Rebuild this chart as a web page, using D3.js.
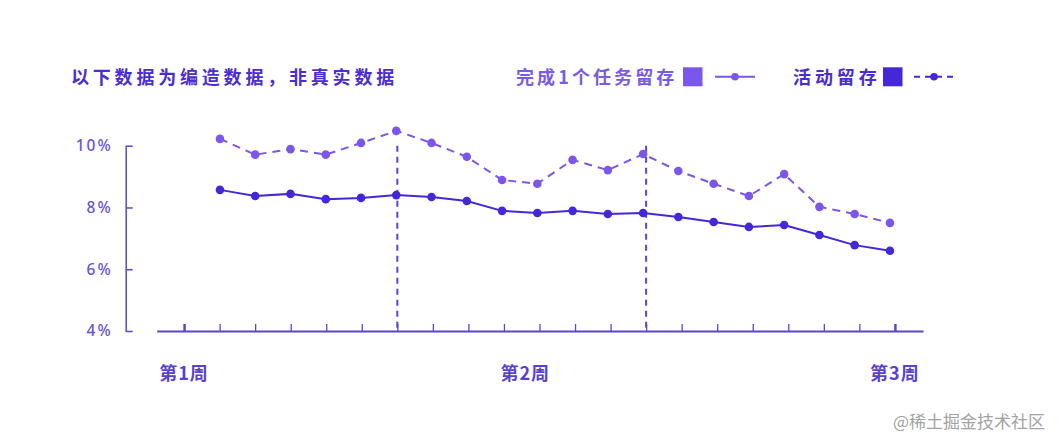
<!DOCTYPE html>
<html>
<head>
<meta charset="utf-8">
<script src="https://cdn.jsdelivr.net/npm/d3@7"></script>
<style>
  body { margin: 0; background: #fff; }
  text { font-family: "Noto Sans CJK SC", "Noto Sans", sans-serif; }
</style>
</head>
<body>
<div id="chart"></div>
<script>
  // Chart data
  var title = "以下数据为编造数据，非真实数据";
  var seriesNames = ["完成1个任务留存", "活动留存"];
  var taskValues = [10.22, 9.71, 9.89, 9.71, 10.09, 10.48, 10.09, 9.64, 8.89, 8.77,
                    9.54, 9.21, 9.73, 9.18, 8.77, 8.37, 9.08, 8.02, 7.79, 7.50];
  var activityValues = [8.57, 8.37, 8.44, 8.27, 8.31, 8.40, 8.34, 8.21, 7.89, 7.82,
                        7.89, 7.79, 7.82, 7.69, 7.53, 7.37, 7.43, 7.11, 6.78, 6.60];
  var yTicks = [4, 6, 8, 10];
  var weekLabels = ["第1周", "第2周", "第3周"];
  var weekTickIndex = [0, 9.6, 20];   // position on the day ticks
  var markerTicks = [6, 13];          // dashed vertical markers
  var watermark = "@稀土掘金技术社区";

  var width = 1061, height = 447;
  var lightColor = "#7b56ea", darkColor = "#4527d8";
  var axisColor = "#5a47c6";

  var svg = d3.select("#chart").append("svg")
              .attr("width", width)
              .attr("height", height);

  // Scales
  var xTick = d3.scaleLinear().domain([-0.77, 20.79]).range([156.7, 923]);
  var xPoint = d3.scaleLinear().domain([0, 19]).range([xTick(1.01), xTick(19.86)]);
  var yScale = d3.scaleLinear().domain([4, 10]).range([331, 145.7]);

  // X axis (ticks pointing up)
  var xAxis = d3.axisBottom(xTick)
                .tickValues(d3.range(21))
                .tickSizeInner(-7)
                .tickSizeOuter(0)
                .tickFormat("");
  var gx = svg.append("g")
              .attr("transform", "translate(0," + yScale(4) + ")")
              .call(xAxis);
  gx.select(".domain").attr("stroke", axisColor).attr("stroke-width", 2);
  gx.selectAll(".tick line")
    .attr("stroke", axisColor)
    .attr("stroke-width", function(d) { return (d === 0 || d === 20) ? 2.5 : 1.3; });

  // Week labels
  svg.selectAll("text.week")
     .data(weekLabels)
     .enter()
     .append("text")
     .attr("class", "week")
     .attr("x", function(d, i) { return xTick(weekTickIndex[i]); })
     .attr("y", 380)
     .attr("text-anchor", "middle")
     .attr("fill", "#5a3fd3")
     .attr("font-size", 18)
     .attr("font-weight", "bold")
     .attr("letter-spacing", 1)
     .text(function(d) { return d; });

  // Y axis (ticks pointing right)
  var yAxis = d3.axisLeft(yScale)
                .tickValues(yTicks)
                .tickSizeInner(-7)
                .tickSizeOuter(0)
                .tickPadding(13)
                .tickFormat(function(d) { return d + "%"; });
  var gy = svg.append("g")
              .attr("transform", "translate(125.7,0)")
              .call(yAxis);
  gy.select(".domain").attr("stroke", axisColor).attr("stroke-width", 1.5);
  gy.selectAll(".tick line").attr("stroke", axisColor).attr("stroke-width", 1.5);
  gy.selectAll(".tick text")
    .attr("fill", "#6a52d6")
    .attr("font-size", 15.5)
    .attr("font-weight", 500)
    .attr("letter-spacing", 2)
    .style("font-family", "'Noto Sans', sans-serif");

  // Dashed vertical markers
  svg.selectAll("line.marker")
     .data(markerTicks)
     .enter()
     .append("line")
     .attr("class", "marker")
     .attr("x1", function(d) { return xTick(d); })
     .attr("x2", function(d) { return xTick(d); })
     .attr("y1", yScale(10))
     .attr("y2", yScale(4))
     .attr("stroke", "#5b44d2")
     .attr("stroke-width", 2)
     .attr("stroke-dasharray", "6,5");

  // Lines and points
  var line = d3.line()
               .x(function(d, i) { return xPoint(i); })
               .y(function(d) { return yScale(d); });

  var series = [
    { values: taskValues, color: lightColor, dash: "8,6" },
    { values: activityValues, color: darkColor, dash: null }
  ];

  series.forEach(function(s) {
    svg.append("path")
       .datum(s.values)
       .attr("d", line)
       .attr("fill", "none")
       .attr("stroke", s.color)
       .attr("stroke-width", 2)
       .attr("stroke-dasharray", s.dash);

    svg.append("g")
       .selectAll("circle")
       .data(s.values)
       .enter()
       .append("circle")
       .attr("cx", function(d, i) { return xPoint(i); })
       .attr("cy", function(d) { return yScale(d); })
       .attr("r", 4.3)
       .attr("fill", s.color);
  });

  // Title
  svg.append("text")
     .attr("x", 71)
     .attr("y", 83.5)
     .attr("fill", "#4b2ecf")
     .attr("font-size", 18)
     .attr("font-weight", "bold")
     .attr("letter-spacing", 3.8)
     .text(title);

  // Legend
  var legendItems = [
    { name: seriesNames[0], color: lightColor, textColor: "#7a5be6", tx: 516, sx: 683, lx: 715, dash: null },
    { name: seriesNames[1], color: darkColor, textColor: "#4a2dd0", tx: 793, sx: 883, lx: 914, dash: "6,5" }
  ];
  var legend = svg.append("g").selectAll("g")
                  .data(legendItems)
                  .enter()
                  .append("g");

  legend.append("text")
        .attr("x", function(d) { return d.tx; })
        .attr("y", 83.5)
        .attr("fill", function(d) { return d.textColor; })
        .attr("font-size", 18)
        .attr("font-weight", "bold")
        .attr("letter-spacing", function(d, i) { return i === 0 ? 3.1 : 3.9; })
        .text(function(d) { return d.name; });

  legend.append("rect")
        .attr("x", function(d) { return d.sx; })
        .attr("y", 67.3)
        .attr("width", 19.5)
        .attr("height", 19)
        .attr("fill", function(d) { return d.color; });

  legend.append("line")
        .attr("x1", function(d) { return d.lx; })
        .attr("x2", function(d) { return d.lx + 40; })
        .attr("y1", 76.7)
        .attr("y2", 76.7)
        .attr("stroke", function(d) { return d.color; })
        .attr("stroke-width", 2)
        .attr("stroke-dasharray", function(d) { return d.dash; });

  legend.append("circle")
        .attr("cx", function(d) { return d.lx + 20; })
        .attr("cy", 76.7)
        .attr("r", 3.8)
        .attr("fill", function(d) { return d.color; });

  // Watermark
  svg.append("text")
     .attr("x", 1045)
     .attr("y", 428)
     .attr("text-anchor", "end")
     .attr("fill", "#a3a3a3")
     .attr("font-size", 17)
     .text(watermark);
</script>
</body>
</html>
